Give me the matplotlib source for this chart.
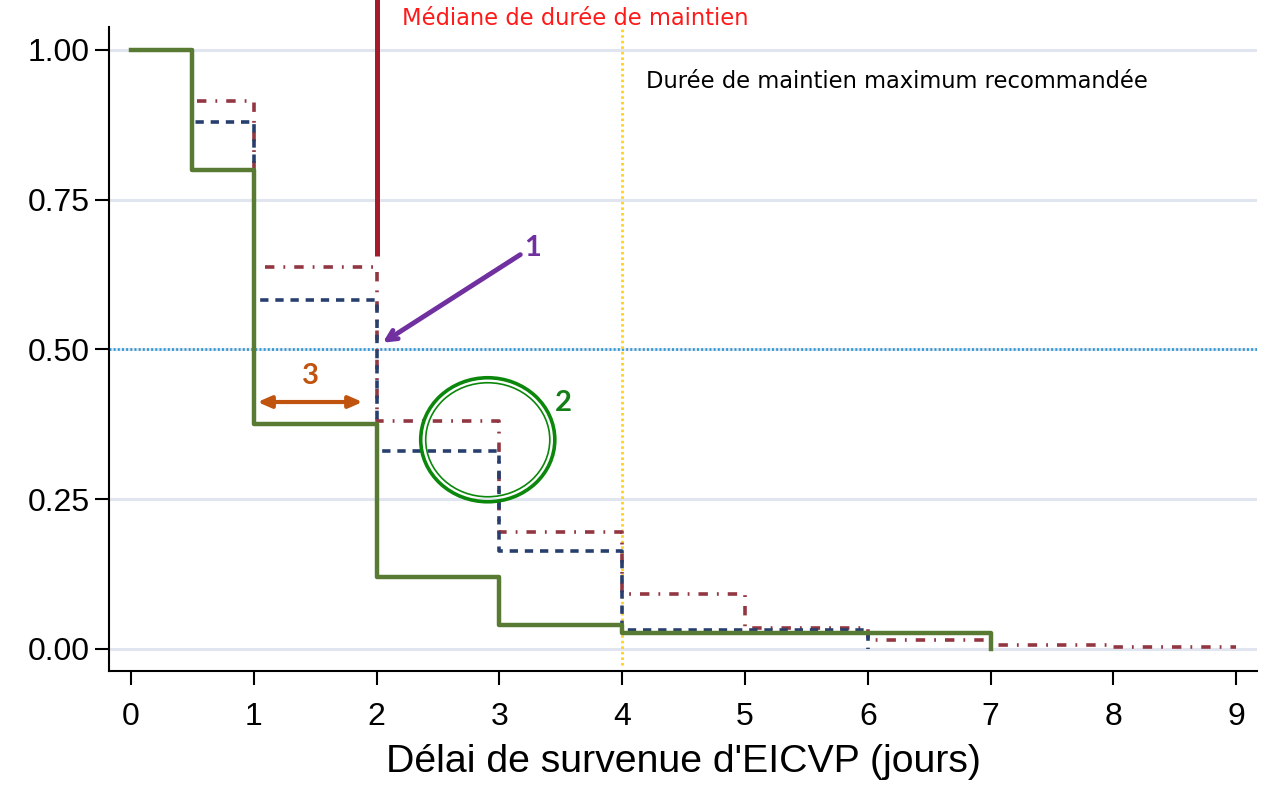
import numpy as np
import matplotlib.pyplot as plt
from matplotlib.patches import Ellipse

# step curves (value held from x[i] to x[i+1])
x_green = [0, 0.5, 1, 2, 3, 4, 7]
y_green = [1.0, 0.80, 0.375, 0.12, 0.04, 0.027, 0.0]
x_blue = [0, 0.5, 1, 2, 3, 4, 6]
y_blue = [1.0, 0.88, 0.583, 0.33, 0.164, 0.031, 0.0]
x_red = [0, 0.5, 1, 2, 3, 4, 5, 6, 7, 8, 9]
y_red = [1.0, 0.915, 0.637, 0.381, 0.195, 0.092, 0.035, 0.014, 0.007, 0.003, 0.003]

median_x = 2
max_x = 4
xticks = list(range(10))
yticks = [0, 0.25, 0.5, 0.75, 1.0]
ytick_labels = ['0.00', '0.25', '0.50', '0.75', '1.00']

plt.rcParams['font.family'] = ['Liberation Sans', 'DejaVu Sans']

fig = plt.figure(figsize=(12.68, 7.87), dpi=100)
ax = fig.add_axes([0.0860, 0.1474, 0.9054, 0.8183])

for yv in yticks:
    ax.axhline(yv, color='#e1e5ef', lw=2.2, zorder=0)

ax.axhline(0.5, color='#2f9ad4', lw=2.0, ls=(0, (0.7, 0.8)), zorder=1)

ax.step(x_red, y_red, where='post', color='#923642', lw=2.6,
        ls=(0, (2.6, 2.5, 0.5, 2.5)), zorder=2)
ax.step(x_blue, y_blue, where='post', color='#283f6e', lw=2.6,
        ls=(0, (2.3, 1.9)), zorder=3)
ax.step(x_green, y_green, where='post', color='#597a33', lw=3.2, zorder=4)

ax.plot([max_x, max_x], [-0.027, 1.04], color='#ffd21f', lw=2.0,
        ls=(0, (0.9, 1.1)), clip_on=False, zorder=1)
ax.plot([median_x, median_x], [0.655, 1.09], color='#a51b2a', lw=3.6,
        clip_on=False, zorder=5, solid_capstyle='butt')

ax.text(2.21, 1.053, 'Médiane de durée de maintien', color='#ff1a1a',
        fontsize=16.3, family='DejaVu Sans', ha='left', va='center', clip_on=False)
ax.text(4.19, 0.947, 'Durée de maintien maximum recommandée', color='black',
        fontsize=16.3, family='DejaVu Sans', ha='left', va='center')

# annotation 1
ax.annotate('', xy=(2.05, 0.511), xytext=(3.17, 0.658),
            arrowprops=dict(arrowstyle='->,head_length=0.7,head_width=0.35',
                            color='#7030a0', lw=3.5, shrinkA=0, shrinkB=0))
ax.text(3.27, 0.669, '1', color='#7030a0', fontsize=21, family='Lato',
        fontweight='bold', ha='center', va='center')

# annotation 2
ax.add_patch(Ellipse((2.905, 0.349), 134 / 122.7, 124 / 599, fill=False,
                     ec='#0b870b', lw=2.6, zorder=6))
ax.add_patch(Ellipse((2.905, 0.349), 124 / 122.7, 114 / 599, fill=False,
                     ec='#0b870b', lw=1.2, zorder=6))
ax.text(3.52, 0.411, '2', color='#137f17', fontsize=21, family='Lato',
        fontweight='bold', ha='center', va='center')

# annotation 3
ax.annotate('', xy=(1.03, 0.412), xytext=(1.885, 0.412),
            arrowprops=dict(arrowstyle='<|-|>,head_length=0.8,head_width=0.35',
                            color='#c0530e', lw=3.0, shrinkA=0, shrinkB=0))
ax.text(1.46, 0.456, '3', color='#c0530e', fontsize=21, family='Lato',
        fontweight='bold', ha='center', va='center')

ax.set_xlim(-0.179, 9.17)
ax.set_ylim(-0.037, 1.038)
ax.set_xticks(xticks)
ax.set_yticks(yticks)
ax.set_yticklabels(ytick_labels)
ax.tick_params(axis='both', labelsize=23, width=1.5, length=10, color='black')
ax.tick_params(axis='x', pad=12)
ax.tick_params(axis='y', pad=4)
for s in ['top', 'right']:
    ax.spines[s].set_visible(False)
for s in ['left', 'bottom']:
    ax.spines[s].set_linewidth(1.5)

ax.set_xlabel("Délai de survenue d'EICVP (jours)", fontsize=28.3, labelpad=9)

fig.savefig('out.png', dpi=100)
